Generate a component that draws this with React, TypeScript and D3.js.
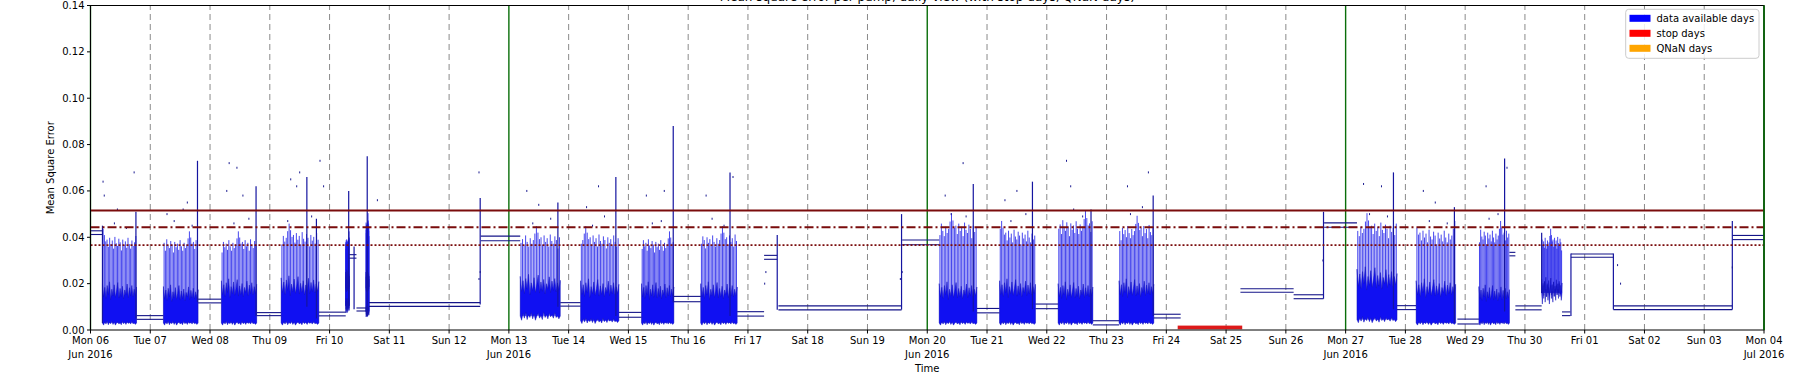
import React from "react";
import * as d3 from "d3";

const W = 1800;
const H = 373;
const margin = { left: 90.5, right: 36, top: 5.5, bottom: 43 };

// time is in days since Mon 06 Jun 2016 00:00
const start = Date.UTC(2016, 5, 6);
const dayCount = 28;

const yTicks = [0, 0.02, 0.04, 0.06, 0.08, 0.1, 0.12, 0.14];

// horizontal limits: solid, dash-dot, dotted
const limitValues = [0.0516, 0.0443, 0.0366];
const limitDash = ["", "9,3,2,3", "2,2"];
const limitWidth = [2, 2, 1.8];

const stopStart = [18.19];
const stopEnd = [19.27];

// busy periods (dense blocks)
const blockStart = [0.2, 1.22, 2.19, 3.19, 4.27, 4.61, 7.19, 8.2, 9.22, 10.21, 14.2, 15.21, 16.19, 17.21, 21.19, 22.18, 23.23, 24.28];
const blockEnd = [0.77, 1.8, 2.78, 3.82, 4.33, 4.66, 7.86, 8.84, 9.76, 10.82, 14.83, 15.81, 16.77, 17.79, 21.86, 22.84, 23.74, 24.62];
const blockFloor = [0.003, 0.003, 0.003, 0.003, 0.0105, 0.008, 0.006, 0.004, 0.003, 0.003, 0.003, 0.003, 0.003, 0.003, 0.0045, 0.003, 0.003, 0.016];
const blockFill = [0.016, 0.015, 0.017, 0.018, 0.02, 0.02, 0.0185, 0.017, 0.016, 0.016, 0.016, 0.017, 0.016, 0.017, 0.021, 0.017, 0.015, 0.0175];
const blockComb = [0.039, 0.038, 0.038, 0.041, 0.038, 0.045, 0.04, 0.04, 0.038, 0.04, 0.045, 0.042, 0.046, 0.044, 0.045, 0.042, 0.042, 0.039];

// ragged shapes inside a block
const combPattern = [1.12, 1.05, 0.98, 1.0, 0.92, 1.02, 0.95, 0.99, 0.9, 1.03, 0.96, 0.93, 1.01, 0.97, 0.88, 1.0, 0.94, 0.98, 0.91, 1.02, 0.95, 0.9, 0.99, 0.93, 0.97, 1.04];
const fillPattern = [1.25, 0.9, 1.15, 0.85, 1.2, 0.95, 1.3, 0.82, 1.1, 0.92, 1.22, 0.88, 1.05, 1.28, 0.86, 1.12, 0.9, 1.18, 0.84, 1.08, 0.95, 1.24, 0.87, 1.14, 0.92, 1.2, 0.89, 1.1, 0.93, 1.16];
const floorPattern = [1.0, 0.7, 1.2, 0.85, 1.3, 0.75, 1.1, 0.9, 1.25, 0.8, 1.15, 0.7, 1.0, 1.2, 0.85, 1.05, 0.75, 1.3, 0.9, 1.1, 0.8, 1.2, 0.95, 1.1, 0.85, 1.25, 0.9, 1.0, 0.8, 1.15];

// quiet periods: two close levels
const plateauStart = [0.0, 0.77, 1.8, 2.78, 3.82, 4.33, 4.45, 4.66, 6.53, 7.86, 8.84, 9.76, 10.82, 11.27, 11.51, 13.58, 14.83, 15.81, 16.77, 17.79, 19.24, 20.13, 20.64, 21.86, 22.87, 23.74, 23.84, 24.62, 24.77, 25.48, 27.47];
const plateauEnd = [0.2, 1.22, 2.19, 3.19, 4.27, 4.45, 4.61, 6.52, 7.19, 8.2, 9.22, 10.21, 11.27, 11.49, 13.57, 14.2, 15.21, 16.19, 17.21, 18.24, 20.13, 20.63, 21.19, 22.18, 23.23, 23.84, 24.28, 24.76, 25.48, 27.47, 28.0];
const plateauHigh = [0.0428, 0.0062, 0.0133, 0.0075, 0.0077, 0.0325, 0.0095, 0.0118, 0.0405, 0.0118, 0.0076, 0.0145, 0.0079, 0.0322, 0.0104, 0.0388, 0.0093, 0.0112, 0.004, 0.0068, 0.0178, 0.0152, 0.0462, 0.0105, 0.0047, 0.0335, 0.0104, 0.0078, 0.0328, 0.0104, 0.0408];
const plateauLow = [0.0412, 0.0046, 0.0117, 0.0062, 0.0061, 0.031, 0.0082, 0.0102, 0.0385, 0.0103, 0.0055, 0.0122, 0.006, 0.0305, 0.0087, 0.0368, 0.0074, 0.0092, 0.0022, 0.0052, 0.0163, 0.0135, 0.0443, 0.0088, 0.0026, 0.032, 0.0087, 0.0062, 0.0314, 0.0088, 0.039];

// single tall excursions [time, from, to]
const spikeTime = [0.2, 0.76, 1.79, 2.77, 3.62, 3.78, 4.32, 4.41, 4.63, 6.52, 7.82, 8.79, 9.75, 10.7, 11.49, 13.57, 14.77, 15.76, 16.74, 17.78, 20.63, 21.8, 22.82, 23.66, 24.28, 24.77, 25.48, 27.47];
const spikeFrom = [0.003, 0.005, 0.012, 0.006, 0.01, 0.005, 0.0105, 0.009, 0.006, 0.011, 0.01, 0.006, 0.012, 0.006, 0.0087, 0.0088, 0.008, 0.009, 0.003, 0.006, 0.0135, 0.009, 0.003, 0.008, 0.016, 0.006, 0.0088, 0.0088];
const spikeTo = [0.045, 0.051, 0.073, 0.062, 0.066, 0.048, 0.06, 0.036, 0.075, 0.057, 0.055, 0.066, 0.088, 0.068, 0.041, 0.05, 0.063, 0.064, 0.052, 0.058, 0.051, 0.068, 0.053, 0.074, 0.042, 0.033, 0.033, 0.047];

// scattered stray samples
const dotTime = [0.21, 0.23, 0.45, 0.73, 1.28, 1.55, 1.62, 2.32, 2.28, 2.55, 2.45, 3.35, 3.5, 3.45, 3.84, 3.9, 4.8, 6.5, 6.5, 6.52, 7.3, 7.5, 8.3, 8.5, 9.3, 9.6, 10.3, 10.75, 11.28, 11.3, 13.55, 13.58, 14.3, 14.6, 15.3, 15.5, 16.33, 16.4, 17.35, 17.7, 20.63, 20.62, 21.3, 21.6, 22.3, 22.5, 23.35, 23.7, 25.55, 25.6, 27.47, 0.4, 0.6, 1.4, 1.7, 2.4, 2.65, 3.3, 3.7, 7.4, 7.7, 8.4, 8.6, 9.4, 9.55, 10.4, 10.6, 14.4, 14.65, 15.4, 15.65, 16.45, 16.6, 17.4, 17.6, 21.4, 21.7, 22.4, 22.7, 23.4, 23.55];
const dotValue = [0.064, 0.058, 0.052, 0.068, 0.05, 0.052, 0.055, 0.072, 0.06, 0.058, 0.07, 0.065, 0.068, 0.062, 0.073, 0.062, 0.056, 0.068, 0.022, 0.025, 0.06, 0.054, 0.053, 0.062, 0.058, 0.06, 0.058, 0.066, 0.02, 0.025, 0.022, 0.025, 0.058, 0.072, 0.056, 0.06, 0.073, 0.062, 0.062, 0.068, 0.028, 0.03, 0.063, 0.062, 0.06, 0.055, 0.062, 0.07, 0.028, 0.02, 0.027, 0.046, 0.044, 0.047, 0.045, 0.046, 0.048, 0.047, 0.049, 0.046, 0.048, 0.045, 0.049, 0.046, 0.047, 0.048, 0.045, 0.05, 0.049, 0.047, 0.05, 0.052, 0.049, 0.05, 0.053, 0.05, 0.049, 0.047, 0.046, 0.048, 0.05];

const legendLabels = ["data available days", "stop days", "QNaN days"];
const legendColors = ["#0000ff", "#ff0000", "#ffa500"];

const font = "DejaVu Sans, sans-serif";

export default function App() {
  const x = d3.scaleLinear().domain([0, dayCount]).range([margin.left, W - margin.right]);
  const y = d3.scaleLinear().domain([0, 0.14]).range([H - margin.bottom, margin.top]);
  const x0 = x.range()[0], x1 = x.range()[1];
  const y0 = y.range()[0], y1 = y.range()[1];

  const days = d3.range(0, dayCount + 1);
  const dayLabel = d3.utcFormat("%a %d");
  const monthLabel = d3.utcFormat("%b %Y");
  const toDate = (t: number) => new Date(start + t * 864e5);

  const fillArea = d3.area<[number, number, number]>()
    .x(d => x(d[0]))
    .y0(d => y(d[1]))
    .y1(d => y(d[2]));

  return (
    <svg width={W} height={H} style={{ position: "absolute", left: 0, top: 0, background: "#fff" }} fontFamily={font}>
      <rect x={0} y={0} width={W} height={H} fill="#fff" />
      {/* title sits above the frame, only its descenders show */}
      <text x={(x0 + x1) / 2} y={0.5} fontSize={12} textAnchor="middle" fill="#000">
        Mean square error per pump, daily view (with stop days, QNaN days)
      </text>

      {/* day grid */}
      {days.map(d => {
        const monday = toDate(d).getUTCDay() === 1;
        return (
          <line key={"g" + d} x1={x(d)} x2={x(d)} y1={y0} y2={y1}
            stroke={monday ? "#0a6e0a" : "#8a8a8a"}
            strokeWidth={monday ? 1.4 : 1}
            strokeDasharray={monday ? "" : "6,4"} />
        );
      })}

      {/* busy blocks */}
      {blockStart.map((s, i) => {
        const e = blockEnd[i];
        const n = combPattern.length;
        const m = fillPattern.length;
        const pts: [number, number, number][] = fillPattern.map((p, k) => [
          s + (k / (m - 1)) * (e - s),
          blockFloor[i] * (k === 0 || k === m - 1 ? 1 : floorPattern[k]),
          Math.min(blockFill[i] * p, blockComb[i]),
        ]);
        return (
          <g key={"b" + i}>
            {combPattern.map((_, k) => {
              const t = s + ((k + 0.5) / n) * (e - s);
              const v = blockComb[i] * combPattern[(k + i * 7) % n];
              return <line key={k} x1={x(t)} x2={x(t)} y1={y(blockFloor[i])} y2={y(v)} stroke="#1818e8" strokeWidth={0.8} />;
            })}
            <path d={fillArea(pts) || ""} fill="#1010f2" stroke="#1212b8" strokeWidth={0.5} />
          </g>
        );
      })}

      {/* quiet levels */}
      {plateauStart.map((s, i) => (
        <g key={"p" + i} stroke="#141488" strokeWidth={1.1}>
          <line x1={x(s)} x2={x(plateauEnd[i])} y1={y(plateauHigh[i])} y2={y(plateauHigh[i])} />
          <line x1={x(s)} x2={x(plateauEnd[i])} y1={y(plateauLow[i])} y2={y(plateauLow[i])} />
        </g>
      ))}

      {spikeTime.map((t, i) => (
        <line key={"s" + i} x1={x(t)} x2={x(t)} y1={y(spikeFrom[i])} y2={y(spikeTo[i])} stroke="#1515a0" strokeWidth={1.2} />
      ))}

      {dotTime.map((t, i) => (
        <rect key={"d" + i} x={x(t) - 0.5} y={y(dotValue[i]) - 1} width={1} height={2} fill="#1a1a90" />
      ))}

      {stopStart.map((s, i) => (
        <rect key={"r" + i} x={x(s)} y={y(0.0019)} width={x(stopEnd[i]) - x(s)} height={y(0.0003) - y(0.0019)} fill="#dd1a1a" />
      ))}

      {/* limit lines */}
      {limitValues.map((v, i) => (
        <line key={"l" + i} x1={x0} x2={x1} y1={y(v)} y2={y(v)} stroke="#7a0c0c" strokeWidth={limitWidth[i]} strokeDasharray={limitDash[i]} />
      ))}

      {/* axes frame */}
      <rect x={x0} y={y1} width={x1 - x0} height={y0 - y1} fill="none" stroke="#000" strokeWidth={1} />
      <line x1={x1} x2={x1} y1={y0} y2={y1} stroke="#0a6e0a" strokeWidth={1.4} />

      {yTicks.map(v => (
        <g key={"yt" + v}>
          <line x1={x0 - 3.5} x2={x0} y1={y(v)} y2={y(v)} stroke="#000" />
          <text x={x0 - 6} y={y(v)} dy="0.35em" fontSize={10} textAnchor="end" fill="#000">{v.toFixed(2)}</text>
        </g>
      ))}

      {days.map(d => {
        const dt = toDate(d);
        const showMonth = dt.getUTCDay() === 1;
        return (
          <g key={"xt" + d}>
            <line x1={x(d)} x2={x(d)} y1={y0} y2={y0 + 3.5} stroke="#000" />
            <text x={x(d)} y={y0 + 14} fontSize={10} textAnchor="middle" fill="#000">{dayLabel(dt)}</text>
            {showMonth && (
              <text x={x(d)} y={y0 + 28} fontSize={10} textAnchor="middle" fill="#000">{monthLabel(dt)}</text>
            )}
          </g>
        );
      })}

      <text x={(x0 + x1) / 2} y={H - 1.5} fontSize={10} textAnchor="middle" fill="#000">Time</text>
      <text transform={`translate(${50.5},${(y0 + y1) / 2}) rotate(-90)`} fontSize={10} textAnchor="middle" dy="0.35em" fill="#000">
        Mean Square Error
      </text>

      {/* legend */}
      <g>
        <rect x={1625.7} y={9.3} width={133.3} height={49} rx={3} fill="#fff" fillOpacity={0.85} stroke="#cccccc" />
        {legendLabels.map((l, i) => (
          <g key={l} transform={`translate(1629.5,${18.3 + i * 15})`}>
            <rect x={0} y={-3.5} width={21} height={7} fill={legendColors[i]} />
            <text x={27} y={0} dy="0.35em" fontSize={10} fill="#000">{l}</text>
          </g>
        ))}
      </g>
    </svg>
  );
}
